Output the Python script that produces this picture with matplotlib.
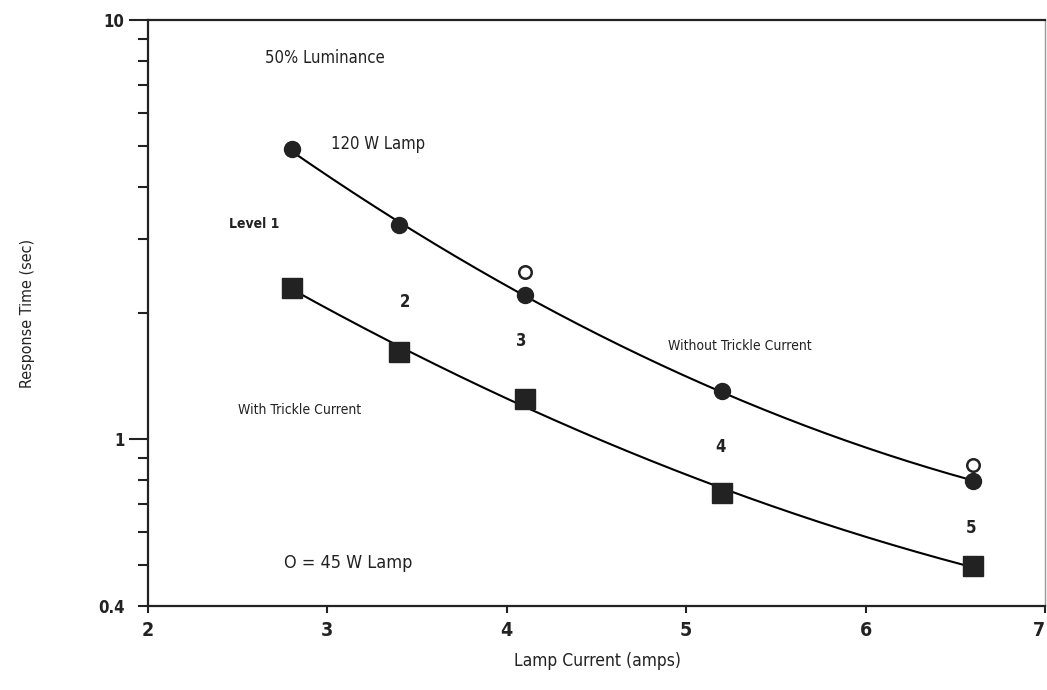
import numpy as np
import matplotlib
matplotlib.use("Agg")
import matplotlib.pyplot as plt
from matplotlib.ticker import FixedLocator, NullFormatter

plt.rcParams['font.family'] = ['DejaVu Sans']
plt.rcParams['font.stretch'] = 'condensed'

# Data
lamp_current = [2.8, 3.4, 4.1, 5.2, 6.6]
resp_without_trickle = [4.91, 3.24, 2.21, 1.30, 0.795]   # 120 W lamp, filled circles
resp_with_trickle = [2.30, 1.61, 1.25, 0.746, 0.497]     # squares
lamp45_current = [4.1, 6.6]
resp_lamp45 = [2.50, 0.868]                               # open circles
level_labels = ["2", "3", "4", "5"]
level_label_x = [3.43, 4.08, 5.19, 6.59]
level_label_y = [2.125, 1.715, 0.958, 0.614]
x_ticks = [2, 3, 4, 5, 6, 7]
y_major = [0.4, 1, 10]
y_major_labels = ["0.4", "1", "10"]
y_minor = [0.5, 0.6, 0.7, 0.8, 0.9, 2, 3, 4, 5, 6, 7, 8, 9]

fig = plt.figure(figsize=(10.47, 6.90), dpi=100)
ax = fig.add_axes([148/1047, 84/690, (1045-148)/1047, (606-20)/690])
ax.set_yscale('log')
ax.set_xlim(2, 7)
ax.set_ylim(0.4, 10)

def fit_curve(x, y):
    c = np.polyfit(x, np.log10(y), 2)
    xs = np.linspace(min(x), max(x), 200)
    return xs, 10 ** np.polyval(c, xs)

xs, ys = fit_curve(lamp_current, resp_without_trickle)
ax.plot(xs, ys, color='black', lw=1.5, zorder=2)
xs, ys = fit_curve(lamp_current, resp_with_trickle)
ax.plot(xs, ys, color='black', lw=1.5, zorder=2)

ax.plot(lamp_current, resp_without_trickle, 'o', color='#222222', ms=11.5, zorder=3)
ax.plot(lamp_current, resp_with_trickle, 's', color='#222222', ms=14, zorder=3)
ax.plot(lamp45_current, resp_lamp45, 'o', mfc='white', mec='#222222', mew=1.8, ms=9, zorder=3)

# Axes styling
for side in ['left', 'bottom', 'top']:
    ax.spines[side].set_linewidth(1.6)
    ax.spines[side].set_color('#222222')
ax.spines['right'].set_linewidth(1.0)
ax.spines['right'].set_color('#999999')

tc = '#222222'
ax.xaxis.set_major_locator(FixedLocator(x_ticks))
ax.set_xticklabels([str(t) for t in x_ticks], fontsize=14, fontweight='bold', color=tc)
ax.tick_params(axis='x', which='major', direction='out', length=5, width=1.5, pad=6, color=tc)
# last label sits at the image edge: keep it inside
ax.get_xticklabels()[-1].set_horizontalalignment('right')

ax.yaxis.set_major_locator(FixedLocator(y_major))
ax.set_yticklabels(y_major_labels, fontsize=12, fontweight='bold', color=tc)
ax.yaxis.set_minor_locator(FixedLocator(y_minor))
ax.yaxis.set_minor_formatter(NullFormatter())
ax.tick_params(axis='y', which='major', direction='out', length=14, width=1.5, pad=3, color=tc)
ax.tick_params(axis='y', which='minor', direction='out', length=7, width=1.5, color=tc)
for t in ax.yaxis.get_major_ticks():
    if abs(t.get_loc() - 0.4) < 1e-9:
        t.tick1line.set_markersize(7)

ax.set_xlabel("Lamp Current (amps)", fontsize=12.5, color=tc)
ax.xaxis.set_label_coords(0.5006, -0.0785)
ax.set_ylabel("Response Time (sec)", fontsize=11.5, color=tc)
ax.yaxis.set_label_coords(-0.126, 0.5)

ax.text(2.65, 8.1, "50% Luminance", fontsize=12, color=tc, va='center', ha='left')
ax.text(3.02, 5.05, "120 W Lamp", fontsize=12, color=tc, va='center', ha='left')
ax.text(2.45, 3.26, "Level 1", fontsize=10, color=tc, va='center', ha='left', fontweight='bold')
ax.text(2.5, 1.175, "With Trickle Current", fontsize=10, color=tc, va='center', ha='left')
ax.text(4.90, 1.67, "Without Trickle Current", fontsize=10, color=tc, va='center', ha='left')
ax.text(2.76, 0.507, "O = 45 W Lamp", fontsize=13, color=tc, va='center', ha='left')
for lab, lx, ly in zip(level_labels, level_label_x, level_label_y):
    ax.text(lx, ly, lab, fontsize=12, color=tc, va='center', ha='center', fontweight='bold')

fig.savefig("out.png", dpi=100, facecolor='white')
